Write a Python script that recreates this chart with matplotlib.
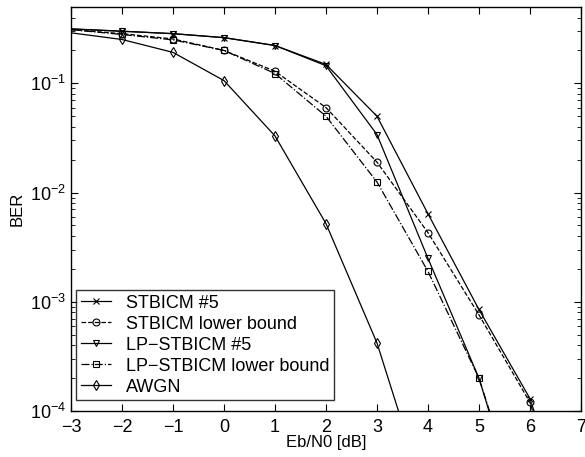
import numpy as np
import matplotlib
matplotlib.use("Agg")
import matplotlib.pyplot as plt
from matplotlib.ticker import LogLocator, NullFormatter

plt.rcParams['font.family'] = ['Liberation Sans', 'DejaVu Sans']

# Eb/N0 values in dB (first and last points of each curve run off the axes)
snr = [-3, -2, -1, 0, 1, 2, 3, 4, 5, 6, 7]
snr_lp = [-3, -2, -1, 0, 1, 2, 3, 4, 5, 6]
snr_awgn = [-3, -2, -1, 0, 1, 2, 3, 4]

# BER values
ber_stbicm = [0.315, 0.300, 0.285, 0.262, 0.222, 0.149, 0.050, 0.0064, 8.5e-4, 1.3e-4, 5e-6]
ber_stbicm_lb = [0.31, 0.285, 0.255, 0.200, 0.129, 0.060, 0.019, 0.0043, 7.6e-4, 1.2e-4, 4e-6]
ber_lp = [0.315, 0.300, 0.285, 0.262, 0.222, 0.145, 0.034, 0.0025, 2.0e-4, 6e-6]
ber_lp_lb = [0.31, 0.280, 0.250, 0.200, 0.123, 0.050, 0.0125, 0.0019, 2.0e-4, 7e-6]
ber_awgn = [0.29, 0.252, 0.192, 0.106, 0.033, 0.0052, 4.2e-4, 1.4e-5]

fig = plt.figure(figsize=(5.85, 4.57), dpi=100)
ax = fig.add_axes([0.1214, 0.1007, 0.8716, 0.884])

ms = 5
kw = dict(lw=0.9, ms=ms, mfc='none', mew=0.8)
ax.semilogy(snr, ber_stbicm, 'k-x', markevery=slice(1, -1), **dict(kw, ms=4), label='STBICM #5')
ax.semilogy(snr, ber_stbicm_lb, 'k--o', markevery=slice(1, -1), **kw, label='STBICM lower bound')
ax.semilogy(snr_lp, ber_lp, 'k-v', markevery=slice(1, -1), **kw, label='LP\u2212STBICM #5')
ax.semilogy(snr_lp, ber_lp_lb, 'k-.s', markevery=slice(1, -1), **kw, label='LP\u2212STBICM lower bound')
ax.semilogy(snr_awgn, ber_awgn, 'k-d', markevery=slice(1, -1), **kw, label='AWGN')

ax.set_xlim(-3, 7)
ax.set_ylim(1e-4, 0.5)
ax.set_xticks(range(-3, 8))
ax.set_xticklabels([str(v).replace('-', '\u2212') for v in range(-3, 8)])
ax.yaxis.set_major_locator(LogLocator(base=10, numticks=10))
ax.yaxis.set_minor_locator(LogLocator(base=10, subs=np.arange(2, 10), numticks=20))
ax.yaxis.set_minor_formatter(NullFormatter())

ax.tick_params(which='both', direction='in', top=True, right=True, labelsize=13)
ax.tick_params(which='major', length=5)
ax.tick_params(which='minor', length=3)
ax.tick_params(axis='x', pad=6)
for s in ax.spines.values():
    s.set_linewidth(1.0)

ax.set_xlabel('Eb/N0 [dB]', fontsize=12, labelpad=-1)
ax.set_ylabel('BER', fontsize=12)

leg = ax.legend(loc='lower left', fontsize=13, frameon=True, fancybox=False,
                edgecolor='black', borderaxespad=0, handlelength=1.7,
                labelspacing=0.22, borderpad=0.25, handletextpad=0.8,
                bbox_to_anchor=(0.01, 0.027))
leg.get_frame().set_linewidth(1.0)

fig.savefig('out.png', dpi=100)
